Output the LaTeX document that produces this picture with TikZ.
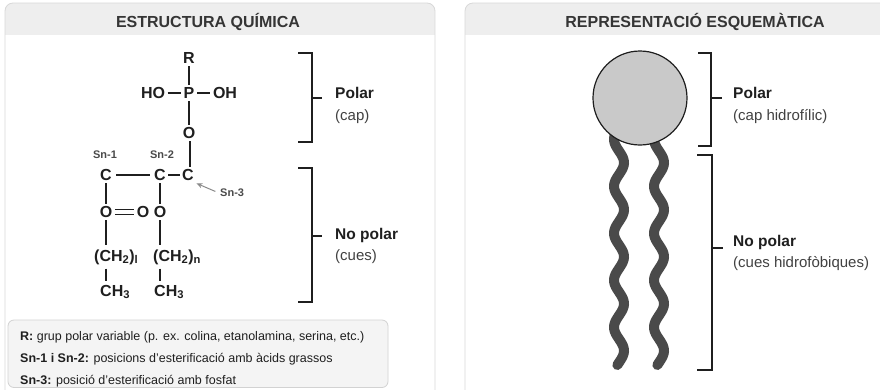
\documentclass[tikz,border=0pt]{standalone}
\usepackage{fontspec}
\setmainfont{Liberation Sans}
\usetikzlibrary{arrows.meta}
\definecolor{panelline}{HTML}{D8D8D8}
\definecolor{headfill}{HTML}{EEEEEE}
\definecolor{ink}{HTML}{1F1F1F}
\definecolor{labelgray}{HTML}{4A4A4A}
\definecolor{tailgray}{HTML}{4A4A4A}
\definecolor{headgray}{HTML}{C9C9C9}
\definecolor{notefill}{HTML}{F4F4F4}
\definecolor{noteline}{HTML}{D2D2D2}
\definecolor{arrowgray}{HTML}{8A8A8A}
\begin{document}
\begin{tikzpicture}[x=1pt,y=-1pt,
  atom/.style={font=\bfseries\fontsize{16}{18}\selectfont, text=ink, inner sep=2.5pt},
  snlab/.style={font=\bfseries\fontsize{11}{13}\selectfont, text=labelgray, inner sep=1pt},
  bond/.style={draw=ink, line width=1.2pt},
  bracket/.style={draw=ink, line width=1.3pt},
  paneltitle/.style={font=\bfseries\fontsize{16}{19}\selectfont, text=ink!90},
  region/.style={font=\bfseries\fontsize{15.5}{18}\selectfont, text=ink, anchor=west, inner sep=0pt},
  regionsub/.style={font=\fontsize{15}{17}\selectfont, text=ink!85, anchor=west, inner sep=0pt},
  note/.style={font=\fontsize{12.5}{14}\selectfont, anchor=west, inner sep=0pt, text=ink},
  tail/.style={draw=tailgray, line width=10pt, line cap=round},
]
\useasboundingbox (0,0) rectangle (880,389);
\fill[white] (0,0) rectangle (880,389);
\clip (0,0) rectangle (880,389);

% ---- panels with header bars ----
\foreach \xa/\xb in {5/435, 465/900}{
  \begin{scope}
    \clip[rounded corners=8pt] (\xa,3) rectangle (\xb,420);
    \fill[headfill] (\xa,3) rectangle (\xb,35);
  \end{scope}
  \draw[panelline, line width=0.8pt, rounded corners=8pt] (\xa,3) rectangle (\xb,420);
}
\node[paneltitle] (t1) at (208,22) {ESTRUCTURA QUÍMICA};
\node[paneltitle] (t2) at (695,22) {REPRESENTACIÓ ESQUEMÀTICA};

% ---- chemical structure ----
\node[atom] (R)  at (189,58)  {R};
\node[atom] (P)  at (189,93)  {P};
\node[atom] (HO) at (153,93)  {HO};
\node[atom] (OH) at (225,93)  {OH};
\node[atom] (Op) at (189,133) {O};
\node[atom] (C3) at (188,175) {C};
\node[atom] (C2) at (160,175) {C};
\node[atom] (C1) at (106,175) {C};
\node[snlab] (sn1) at (105,155) {Sn-1};
\node[snlab] (sn2) at (162,155) {Sn-2};
\node[snlab, anchor=west] (sn3) at (219,193) {Sn-3};
\node[atom] (O1)  at (106,212) {O};
\node[atom] (O1b) at (143,212) {O};
\node[atom] (O2)  at (160,212) {O};
\node[atom, anchor=west, inner sep=0pt] (ch2l) at (94,257) {(CH\textsubscript{2})\textsubscript{l}};
\node[atom, anchor=west, inner sep=0pt] (ch2n) at (153,257) {(CH\textsubscript{2})\textsubscript{n}};
\node[atom, anchor=west, inner sep=0pt] (ch3l) at (100,292) {CH\textsubscript{3}};
\node[atom, anchor=west, inner sep=0pt] (ch3n) at (154,292) {CH\textsubscript{3}};

\draw[bond] (R) -- (P);
\draw[bond] (HO) -- (P);
\draw[bond] (P) -- (OH);
\draw[bond] (P) -- (Op);
\draw[bond] ([xshift=1pt]Op.south) -- ([xshift=1pt]Op.south |- C3.north);
\draw[bond, shorten <=2pt, shorten >=2pt] (C1) -- (C2);
\draw[bond] (C2) -- (C3);
\draw[bond] (C1) -- (O1);
\draw[bond] (C2) -- (O2);
\draw[bond] ([yshift=2.2pt]O1.east) -- ([yshift=2.2pt]O1b.west);
\draw[bond] ([yshift=-2.2pt]O1.east) -- ([yshift=-2.2pt]O1b.west);
\draw[bond, shorten >=4pt] (O1) -- (O1 |- ch2l.north);
\draw[bond, shorten >=4pt] (O2) -- (O2 |- ch2n.north);
\draw[bond, shorten <=4pt, shorten >=4pt] (O1 |- ch2l.south) -- (O1 |- ch3l.north);
\draw[bond, shorten <=4pt, shorten >=4pt] (O2 |- ch2n.south) -- (O2 |- ch3n.north);
\draw[arrowgray, line width=1pt, -{Stealth[length=6pt,width=5pt]}, shorten <=4pt] (sn3.west) -- (C3.south east);

% ---- brackets, left panel ----
\draw[bracket] (298,53) -- (312,53) -- (312,142) -- (298,142);
\draw[bracket] (312,98) -- (322,98);
\draw[bracket] (298,168) -- (312,168) -- (312,302) -- (298,302);
\draw[bracket] (312,236) -- (322,236);
\node[region]    (pl)  at (335,93)  {Polar};
\node[regionsub] (pls) at (335,117) {(cap)};
\node[region]    (npl)  at (335,235) {No polar};
\node[regionsub] (npls) at (335,257) {(cues)};

% ---- legend ----
\draw[noteline, fill=notefill, line width=0.8pt, rounded corners=6pt] (8,320) rectangle (388,387.5);
\node[note] (n1) at (20,337) {\textbf{R:} grup polar variable (p. ex. colina, etanolamina, serina, etc.)};
\node[note] (n2) at (20,359) {\textbf{Sn-1 i Sn-2:} posicions d’esterificació amb àcids grassos};
\node[note] (n3) at (20,381) {\textbf{Sn-3:} posició d’esterificació amb fosfat};

% ---- schematic phospholipid ----
\draw[tail] plot[domain=132:365, samples=120, smooth] ({619+5*sin((\x-151)*7.66)}, {\x});
\draw[tail] plot[domain=132:365, samples=120, smooth] ({659+5*sin((\x-151)*7.66)}, {\x});
\node[circle, draw=ink, line width=1.2pt, fill=headgray, minimum size=94pt, inner sep=0pt] (head) at (640,98) {};

\draw[bracket] (698,53) -- (711,53) -- (711,146) -- (698,146);
\draw[bracket] (711,98) -- (722,98);
\draw[bracket] (697,155) -- (712,155) -- (712,370) -- (697,370);
\draw[bracket] (712,248) -- (723,248);
\node[region]    (pr)  at (733,93)  {Polar};
\node[regionsub] (prs) at (733,117) {(cap hidrofílic)};
\node[region]    (npr)  at (733,242) {No polar};
\node[regionsub] (nprs) at (733,264) {(cues hidrofòbiques)};
\end{tikzpicture}
\end{document}
